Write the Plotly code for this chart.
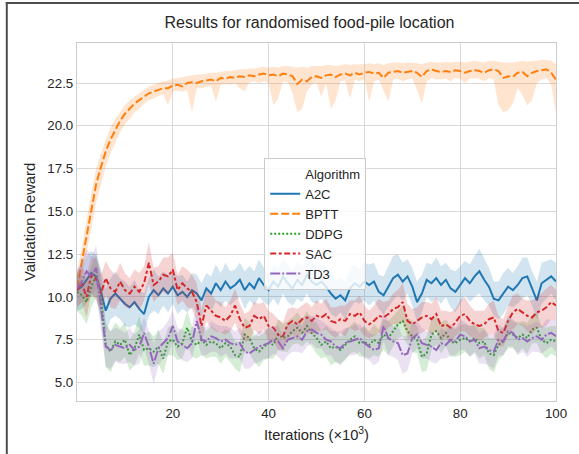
import plotly.graph_objects as go

ITER = list(range(0, 101))

A2C = [10.4, 10.6, 11.0, 11.4, 11.2, 10.3, 9.2, 9.9, 10.2, 9.9,
       9.6, 9.4, 9.7, 9.3, 9.0, 10.0, 10.4, 10.1, 10.5, 10.2,
       10.6, 10.1, 10.3, 10.0, 10.4, 10.2, 9.8, 10.5, 10.2, 10.8,
       10.4, 10.9, 10.5, 10.7, 11.0, 10.4, 10.8, 10.5, 11.1, 10.7,
       10.4, 10.9, 10.6, 11.2, 10.8, 10.5, 11.0, 10.7, 11.3, 10.9,
       10.7, 10.9, 10.6, 10.2, 9.9, 10.1, 9.8, 10.5, 10.8, 10.6,
       10.9, 10.7, 10.9, 10.3, 10.1, 10.6, 11.1, 11.3, 10.9, 11.2,
       10.6, 9.7, 10.2, 11.0, 10.8, 11.1, 10.7, 11.0, 10.5, 10.3,
       10.7, 11.1, 10.8, 11.2, 11.5, 11.0, 10.6, 9.9, 9.8, 10.2,
       10.6, 10.4, 10.7, 11.1, 11.2, 10.5, 9.8, 10.8, 11.0, 11.2, 10.9]
A2C_HW = [1.2, 1.3, 1.4, 1.3, 1.2, 1.3, 1.3, 1.2, 1.3, 1.2,
          1.3, 1.2, 1.3, 1.1, 1.2, 1.1, 1.2, 1.1, 1.0, 1.1,
          1.0, 1.1, 1.0, 0.9, 1.0, 1.1, 1.0, 0.9, 1.0, 1.1,
          1.0, 1.1, 1.0, 0.9, 1.0, 1.1, 1.0, 1.0, 1.1, 1.0,
          0.9, 1.0, 1.1, 1.0, 1.1, 1.0, 1.1, 1.0, 1.1, 1.2,
          1.1, 1.0, 1.1, 1.2, 1.1, 1.0, 1.1, 1.2, 1.1, 1.0,
          1.1, 1.2, 1.1, 1.0, 1.1, 1.2, 1.3, 1.2, 1.1, 1.0,
          1.1, 1.2, 1.1, 1.0, 1.1, 1.2, 1.1, 1.0, 1.1, 1.2,
          1.1, 1.0, 1.1, 1.2, 1.3, 1.2, 1.1, 1.0, 1.1, 1.2,
          1.1, 1.0, 1.1, 1.2, 1.1, 1.0, 1.1, 1.2, 1.1, 1.0, 1.1]

BPTT = [10.5, 12.0, 13.6, 15.1, 16.6, 17.6, 18.5, 19.2, 19.8, 20.3,
        20.7, 21.0, 21.3, 21.5, 21.7, 21.9, 22.0, 22.1, 22.2, 22.2,
        22.35, 22.4, 22.3, 22.5, 22.55, 22.5, 22.6, 22.65, 22.7, 22.6,
        22.8, 22.75, 22.85, 22.8, 22.9, 22.85, 22.95, 22.9, 23.0, 23.05,
        22.95, 23.0, 22.9, 23.05, 23.0, 22.9, 22.45, 22.7, 22.6, 22.85,
        22.9, 22.8, 22.95, 23.0, 22.85, 23.0, 23.05, 22.95, 23.1, 23.0,
        23.1, 23.15, 23.05, 23.1, 22.8, 23.1, 23.15, 23.2, 23.1, 23.15,
        23.2, 23.1, 22.85, 23.2, 23.3, 23.2, 23.15, 23.2, 23.15, 23.25,
        23.2, 23.1, 23.2, 23.25, 23.2, 23.1, 23.25, 23.3, 23.2, 22.8,
        22.9, 22.85, 23.1, 23.15, 22.9, 23.1, 23.2, 23.25, 23.3, 23.1, 22.7]
BPTT_HI = [11.3, 12.9, 14.6, 16.1, 17.5, 18.4, 19.2, 19.9, 20.4, 20.8,
           21.2, 21.5, 21.7, 21.9, 22.1, 22.3, 22.4, 22.5, 22.6, 22.65,
           22.75, 22.8, 22.85, 22.9, 22.95, 23.0, 23.0, 23.05, 23.1, 23.1,
           23.15, 23.2, 23.2, 23.25, 23.3, 23.3, 23.35, 23.35, 23.4, 23.45,
           23.4, 23.45, 23.4, 23.5, 23.5, 23.45, 23.4, 23.45, 23.4, 23.5,
           23.5, 23.5, 23.55, 23.55, 23.5, 23.55, 23.6, 23.55, 23.6, 23.6,
           23.6, 23.65, 23.6, 23.65, 23.55, 23.65, 23.7, 23.7, 23.65, 23.7,
           23.7, 23.65, 23.6, 23.7, 23.75, 23.7, 23.7, 23.75, 23.7, 23.75,
           23.75, 23.7, 23.75, 23.8, 23.75, 23.7, 23.8, 23.8, 23.75, 23.7,
           23.7, 23.7, 23.75, 23.8, 23.75, 23.8, 23.8, 23.85, 23.85, 23.8, 23.6]
BPTT_LO = [9.8, 11.1, 12.6, 14.0, 15.5, 16.6, 17.6, 18.4, 19.0, 19.6,
           20.1, 20.4, 20.8, 21.0, 21.3, 21.5, 21.6, 21.75, 21.85, 21.2,
           22.0, 22.05, 22.0, 22.1, 20.8, 22.2, 22.2, 22.3, 22.3, 21.4,
           22.4, 22.45, 22.4, 22.5, 22.2, 22.0, 22.55, 22.6, 22.5, 22.6,
           22.5, 21.2, 21.6, 22.6, 22.55, 21.9, 20.8, 21.0, 22.0, 22.4,
           22.5, 21.7, 22.5, 21.0, 21.5, 22.6, 22.65, 21.6, 22.7, 22.6,
           22.7, 21.4, 22.6, 22.7, 22.0, 21.4, 22.7, 22.75, 22.6, 22.7,
           22.75, 22.1, 21.3, 22.6, 22.8, 22.7, 22.7, 22.75, 22.6, 22.8,
           22.75, 22.5, 22.75, 22.8, 22.75, 22.6, 22.8, 22.7, 21.2, 20.8,
           20.9, 21.3, 22.2, 21.8, 21.2, 21.5, 22.5, 22.7, 22.8, 22.4, 20.7]

DDPG = [10.3, 10.1, 9.7, 10.6, 11.3, 10.0, 7.2, 6.8, 7.4, 7.2,
        7.5, 6.6, 7.0, 7.8, 6.9, 7.0, 6.8, 7.1, 6.4, 7.4,
        7.5, 7.1, 7.3, 8.2, 7.4, 7.2, 7.5, 7.2, 7.4, 7.3,
        7.0, 7.3, 7.1, 6.6, 6.5, 7.8, 7.6, 7.0, 6.8, 7.1,
        7.3, 7.2, 7.8, 7.6, 7.7, 8.0, 8.2, 7.9, 8.3, 7.9,
        7.6, 7.2, 7.4, 7.0, 7.1, 6.9, 7.2, 7.5, 7.7, 7.3,
        7.4, 7.2, 7.5, 7.3, 7.8, 7.6, 8.0, 8.4, 8.6, 8.0,
        7.7, 7.5, 6.5, 6.7, 7.8, 8.0, 7.6, 7.9, 7.4, 7.3,
        7.5, 7.6, 7.4, 7.6, 7.3, 7.4, 6.7, 6.6, 7.2, 7.4,
        7.9, 7.8, 7.6, 7.8, 7.6, 8.1, 8.2, 7.5, 7.3, 7.5, 7.4]
DDPG_HW = [1.1, 1.2, 1.3, 1.2, 1.3, 1.4, 1.3, 1.2, 1.1, 1.0,
           1.0, 0.9, 1.0, 1.1, 0.9, 1.0, 0.9, 1.0, 0.9, 0.8,
           0.9, 0.8, 0.9, 1.0, 0.9, 0.8, 0.9, 0.8, 0.9, 0.8,
           0.9, 0.8, 0.9, 0.8, 0.9, 1.0, 0.9, 0.8, 0.9, 0.8,
           0.9, 0.8, 0.9, 0.8, 0.9, 0.8, 0.9, 0.8, 0.9, 0.8,
           0.9, 0.8, 0.9, 1.0, 0.9, 0.8, 0.9, 0.8, 0.9, 0.8,
           0.9, 0.8, 0.9, 0.8, 0.9, 1.0, 0.9, 0.8, 0.9, 0.8,
           0.9, 0.8, 0.9, 1.0, 0.9, 0.8, 0.9, 0.8, 0.9, 0.8,
           0.9, 0.8, 0.9, 0.8, 0.9, 0.8, 0.9, 1.0, 0.9, 0.8,
           0.9, 0.8, 0.9, 0.8, 0.9, 0.8, 0.9, 0.8, 0.9, 0.8, 0.9]

SAC = [10.4, 10.8, 10.0, 11.3, 11.0, 10.2, 11.1, 10.5, 10.3, 10.9,
       10.4, 10.2, 10.6, 10.3, 10.8, 12.0, 10.7, 10.9, 11.3, 11.2,
       11.6, 10.4, 10.8, 10.5, 10.3, 9.7, 8.3, 9.5, 9.2, 8.9,
       8.8, 8.6, 8.9, 9.5, 8.7, 8.2, 8.3, 8.9, 8.7, 8.9,
       8.3, 8.2, 7.8, 7.7, 8.4, 8.6, 8.4, 8.7, 8.8, 8.6,
       8.9, 8.8, 9.0, 8.6, 8.5, 8.7, 8.6, 9.0, 8.9, 9.1,
       8.6, 8.4, 8.6, 8.9, 8.8, 9.0, 9.3, 9.4, 9.7, 8.6,
       8.4, 8.6, 8.8, 8.9, 8.7, 9.0, 8.3, 8.4, 8.2, 8.5,
       8.9, 9.0, 8.6, 8.4, 8.3, 8.4, 8.7, 8.8, 8.0, 7.9,
       8.6, 9.1, 9.3, 9.1, 8.9, 8.8, 9.1, 9.2, 9.4, 9.7, 9.5]
SAC_HW = [1.0, 1.1, 1.2, 1.1, 1.2, 1.1, 1.0, 1.1, 1.0, 1.1,
          1.0, 0.9, 1.0, 1.1, 1.0, 1.2, 1.0, 0.9, 1.0, 1.1,
          1.0, 0.9, 1.0, 1.1, 1.0, 1.1, 1.0, 0.9, 1.0, 0.9,
          0.9, 0.8, 0.9, 1.0, 0.9, 0.8, 0.9, 0.8, 0.9, 0.8,
          0.9, 0.8, 0.9, 0.8, 0.9, 0.8, 0.9, 0.8, 0.9, 0.8,
          0.9, 0.8, 0.9, 0.8, 0.9, 0.8, 0.9, 0.8, 0.9, 1.0,
          0.9, 0.8, 0.9, 1.0, 0.9, 0.8, 0.9, 1.0, 1.1, 1.0,
          0.9, 0.8, 0.9, 0.8, 0.9, 1.0, 0.9, 0.8, 0.9, 0.8,
          0.9, 1.0, 0.9, 0.8, 0.9, 0.8, 0.9, 1.0, 0.9, 0.8,
          0.9, 1.0, 0.9, 0.8, 0.9, 1.0, 0.9, 1.0, 1.1, 1.0, 0.9]

TD3 = [10.5, 10.9, 11.5, 11.2, 11.7, 9.5, 7.1, 6.9, 7.2, 7.1,
       7.0, 7.2, 6.9, 7.1, 7.9, 7.1, 6.1, 7.0, 7.3, 7.6,
       8.3, 7.4, 7.2, 7.0, 7.3, 8.6, 7.5, 7.4, 7.7, 7.6,
       7.4, 7.5, 7.3, 7.2, 7.3, 6.8, 6.7, 6.9, 7.1, 7.2,
       7.3, 7.5, 7.4, 7.0, 7.5, 7.6, 7.7, 7.5, 8.0, 8.1,
       7.9, 7.8, 7.5, 7.4, 7.1, 7.0, 7.3, 7.4, 7.5, 7.6,
       7.3, 7.1, 6.9, 7.0, 8.3, 7.6, 7.4, 7.3, 6.6, 6.7,
       7.6, 7.8, 7.3, 7.2, 7.1, 6.9, 7.3, 7.2, 7.5, 7.4,
       7.8, 7.7, 7.4, 7.5, 7.0, 7.1, 6.9, 6.8, 7.5, 7.4,
       8.0, 7.9, 7.5, 7.6, 7.4, 7.6, 7.7, 7.5, 7.8, 7.9, 7.7]
TD3_HW = [1.1, 1.2, 1.3, 1.2, 1.3, 1.4, 1.2, 1.1, 1.0, 1.0,
          0.9, 1.0, 0.9, 1.0, 0.9, 1.0, 1.2, 1.0, 0.9, 1.0,
          0.9, 0.8, 0.9, 0.8, 0.9, 1.0, 0.9, 0.8, 0.9, 0.8,
          0.9, 0.8, 0.9, 0.8, 0.9, 1.0, 0.9, 0.8, 0.9, 0.8,
          0.9, 0.8, 0.9, 0.8, 0.9, 0.8, 0.9, 0.8, 0.9, 0.8,
          0.9, 0.8, 0.9, 0.8, 0.9, 1.0, 0.9, 0.8, 0.9, 0.8,
          0.9, 0.8, 0.9, 0.8, 0.9, 1.0, 0.9, 1.0, 1.1, 1.0,
          0.9, 0.8, 0.9, 0.8, 0.9, 0.8, 0.9, 0.8, 0.9, 0.8,
          0.9, 0.8, 0.9, 0.8, 0.9, 1.0, 0.9, 1.0, 0.9, 0.8,
          0.9, 0.8, 0.9, 0.8, 0.9, 0.8, 0.9, 0.8, 0.9, 0.8, 0.9]

NAMES = ["A2C", "BPTT", "DDPG", "SAC", "TD3"]
COLORS = ["#1f77b4", "#ff7f0e", "#2ca02c", "#d62728", "#9467bd"]
FILLS = ["rgba(31,119,180,0.2)", "rgba(255,127,14,0.2)", "rgba(44,160,44,0.2)",
         "rgba(214,39,40,0.2)", "rgba(148,103,189,0.2)"]
DASHES = ["solid", "8px,3px", "2px,2px", "6px,2.5px,3px,2.5px", "10px,2px,2px,2px"]

means = [A2C, BPTT, DDPG, SAC, TD3]
lows = [[m - h for m, h in zip(A2C, A2C_HW)], BPTT_LO,
        [m - h for m, h in zip(DDPG, DDPG_HW)],
        [m - h for m, h in zip(SAC, SAC_HW)],
        [m - h for m, h in zip(TD3, TD3_HW)]]
highs = [[m + h for m, h in zip(A2C, A2C_HW)], BPTT_HI,
         [m + h for m, h in zip(DDPG, DDPG_HW)],
         [m + h for m, h in zip(SAC, SAC_HW)],
         [m + h for m, h in zip(TD3, TD3_HW)]]

FONT = "Liberation Sans, Arial, sans-serif"
fig = go.Figure()

fig.add_trace(go.Scatter(x=[None], y=[None], mode="lines", name="Algorithm",
                         line=dict(color="rgba(0,0,0,0)", width=2), legendrank=1))

for i, name in enumerate(NAMES):
    fig.add_trace(go.Scatter(
        x=ITER + ITER[::-1], y=highs[i] + lows[i][::-1], fill="toself",
        fillcolor=FILLS[i], line=dict(width=0), mode="lines",
        hoverinfo="skip", showlegend=False))
    fig.add_trace(go.Scatter(
        x=ITER, y=means[i], mode="lines", name=name,
        line=dict(color=COLORS[i], width=2, dash=DASHES[i]),
        legendrank=i + 2))

L, R, T, B = 77, 21, 43, 53
W, H = 579, 454
pw, ph = W - L - R, H - T - B
def px(xp):
    return (xp - L) / pw
def py(yp):
    return (H - B - yp) / ph

fig.update_layout(
    width=W, height=H,
    margin=dict(l=L, r=R, t=T, b=B),
    paper_bgcolor="white", plot_bgcolor="white",
    font=dict(family=FONT, color="#262626", size=13.3),
    title=dict(text="Results for randomised food-pile location",
               x=309.5 / W, xanchor="center", y=1 - 22 / H, yanchor="middle",
               font=dict(size=16, color="#262626")),
    legend=dict(x=px(265), y=py(158), xanchor="left", yanchor="top",
                bgcolor="rgba(255,255,255,0.8)", bordercolor="#cccccc",
                borderwidth=1, font=dict(size=13, color="#262626")),
    xaxis=dict(range=[0, 100], tickvals=[20, 40, 60, 80, 100],
               showgrid=True, gridcolor="#d9d9d9", gridwidth=1,
               zeroline=False, showline=True, mirror=True,
               linecolor="#cccccc", linewidth=1.2, ticks="",
               tickfont=dict(size=13.3),
               title=dict(text="Iterations (×10<sup>3</sup>)", font=dict(size=14.7),
                          standoff=9)),
    yaxis=dict(range=[3.92, 24.84], tickvals=[5, 7.5, 10, 12.5, 15, 17.5, 20, 22.5],
               tickformat=".1f",
               showgrid=True, gridcolor="#d9d9d9", gridwidth=1,
               zeroline=False, showline=True, mirror=True,
               linecolor="#cccccc", linewidth=1.2, ticks="",
               tickfont=dict(size=13.3),
               title=dict(text="Validation Reward", font=dict(size=14.7),
                          standoff=8)),
    shapes=[
        dict(type="line", xref="paper", yref="paper",
             x0=px(6.5), x1=px(6.5), y0=py(H + 5), y1=py(2),
             line=dict(color="#4d4d4d", width=2)),
        dict(type="line", xref="paper", yref="paper",
             x0=px(5.5), x1=px(W + 5), y0=py(3), y1=py(3),
             line=dict(color="#4d4d4d", width=2)),
    ],
    showlegend=True,
)

fig.write_html("out.html")
